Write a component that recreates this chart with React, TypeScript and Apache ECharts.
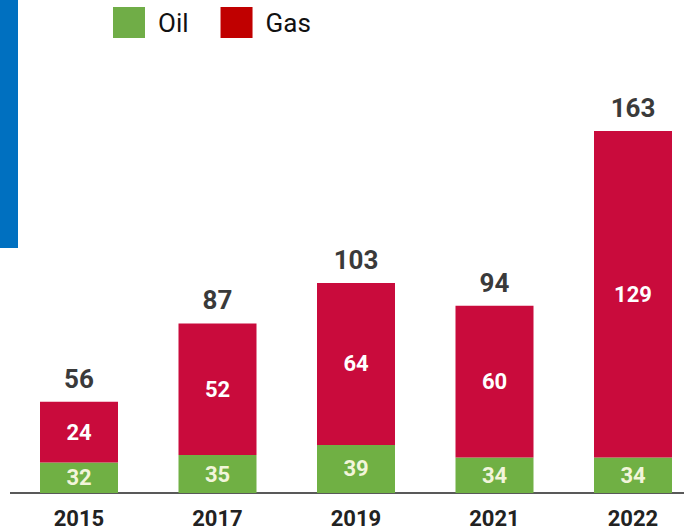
import React, { useEffect, useRef } from "react";
import * as echarts from "echarts";

const categories = ["2015", "2017", "2019", "2021", "2022"];
const oilValues = [32, 35, 39, 34, 34];
const gasValues = [24, 52, 64, 60, 129];
const totalValues = [56, 87, 103, 94, 163];

const FONT = 'Roboto, "Liberation Sans", sans-serif';

export default function App() {
  const ref = useRef<HTMLDivElement>(null);
  useEffect(() => {
    document.body.style.margin = "0";
    const chart = echarts.init(ref.current!, null, { renderer: "svg" });
    chart.setOption({
      animation: false,
      backgroundColor: "#ffffff",
      textStyle: { fontFamily: FONT },
      legend: {
        left: 113,
        top: 7,
        padding: 0,
        icon: "rect",
        itemWidth: 32,
        itemHeight: 31,
        itemGap: 32,
        textStyle: { fontFamily: FONT, fontSize: 26, color: "#111", padding: [0, 0, 0, 8] },
        data: [
          { name: "Oil", itemStyle: { color: "#70ad47" } },
          { name: "Gas", itemStyle: { color: "#c00000" } },
        ],
      },
      grid: { left: 79, right: 51, top: 131, bottom: 39, containLabel: false },
      xAxis: {
        type: "category",
        data: categories,
        boundaryGap: false,
        axisLine: { show: false },
        axisTick: { show: false },
        axisLabel: {
          margin: 14,
          fontFamily: FONT,
          fontSize: 22,
          fontWeight: "bold",
          color: "#222",
        },
      },
      yAxis: {
        type: "value",
        min: 20,
        max: 163,
        show: false,
        splitLine: { show: false },
      },
      graphic: [
        { type: "rect", shape: { x: 0, y: 0, width: 18, height: 248 }, style: { fill: "#0070c0" } },
        { type: "line", shape: { x1: 10, y1: 493, x2: 684, y2: 493 }, style: { stroke: "#222", lineWidth: 1.5 } },
      ],
      series: [
        {
          name: "Oil",
          type: "bar",
          stack: "s",
          barWidth: 78,
          data: oilValues,
          itemStyle: { color: "#70b044" },
          label: {
            show: true,
            position: "inside",
            fontFamily: FONT,
            fontSize: 22,
            fontWeight: "bold",
            color: "#f2f5da",
          },
        },
        {
          name: "Gas",
          type: "bar",
          stack: "s",
          barWidth: 78,
          data: gasValues,
          itemStyle: { color: "#c90b3c" },
          label: {
            show: true,
            position: "inside",
            fontFamily: FONT,
            fontSize: 22,
            fontWeight: "bold",
            color: "#ffffff",
          },
        },
        {
          name: "Total",
          type: "bar",
          barWidth: 78,
          barGap: "-100%",
          z: 1,
          data: totalValues,
          itemStyle: { color: "rgba(0,0,0,0)" },
          label: {
            show: true,
            position: "top",
            distance: 10,
            fontFamily: FONT,
            fontSize: 26,
            fontWeight: "bold",
            color: "#3a3a3a",
          },
          silent: true,
        },
      ],
    });
    return () => chart.dispose();
  }, []);
  return <div ref={ref} style={{ width: 684, height: 532 }} />;
}
